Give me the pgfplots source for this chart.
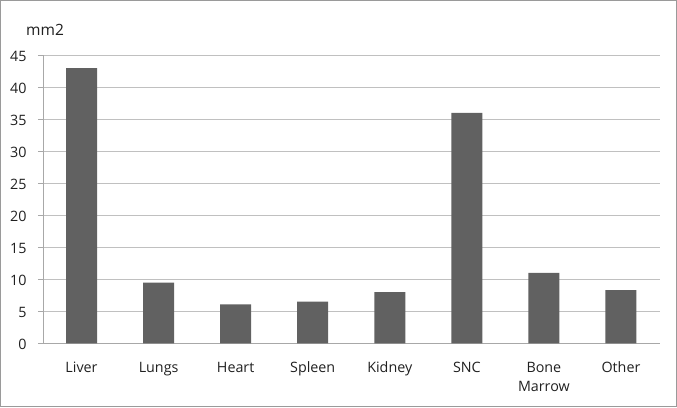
\documentclass[border=0pt]{standalone}
\usepackage{fontspec}
\setmainfont{Open Sans}
\usepackage{pgfplots}
\pgfplotsset{compat=1.18}
\definecolor{barc}{HTML}{616161}
\definecolor{gridc}{HTML}{C0C0C0}
\definecolor{axc}{HTML}{A8A8A8}
\definecolor{txt}{HTML}{202020}
\definecolor{frame}{HTML}{9A9A9A}
\begin{document}
\begin{tikzpicture}
\begin{axis}[
  clip=false,
  scale only axis,
  width=616.5pt, height=288pt,
  xmin=-0.5, xmax=7.5, ymin=0, ymax=45,
  axis x line*=bottom, axis y line*=left,
  axis line style={axc, line width=0.8pt},
  ytick={0,5,...,45},
  ymajorgrids, grid style={gridc, line width=0.8pt},
  xtick={0,...,7},
  xticklabels={Liver,Lungs,Heart,Spleen,Kidney,SNC,{Bone\\Marrow},Other},
  minor xtick={-0.5,0.5,...,7.5},
  tick align=outside,
  x tick style={draw=none},
  minor x tick style={axc, line width=0.8pt},
  minor tick length=5pt,
  y tick style={axc, line width=0.8pt},
  major tick length=5pt,
  /pgf/number format/assume math mode=true,
  tick label style={font=\fontsize{14.3}{19.4}\selectfont, text=txt},
  xticklabel style={align=center, anchor=north, yshift=-10pt},
  yticklabel style={anchor=east, xshift=-8pt, yshift=-1.5pt},
  ybar, bar width=31pt,
]
\addplot[fill=barc, draw=none] coordinates {
  (0,43) (1,9.5) (2,6.1) (3,6.5) (4,8) (5,36) (6,11) (7,8.3)
};
\node[text=txt, font=\fontsize{15.5}{18}\selectfont, anchor=west, inner sep=0pt] at ([shift={(-17pt,25pt)}]rel axis cs:0,1) {mm2};
\draw[frame, line width=1pt] ([shift={(-42.5pt,-63.2pt)}]rel axis cs:0,0) rectangle ([shift={(633.5pt,342.8pt)}]rel axis cs:0,0);
\end{axis}
\end{tikzpicture}
\end{document}
